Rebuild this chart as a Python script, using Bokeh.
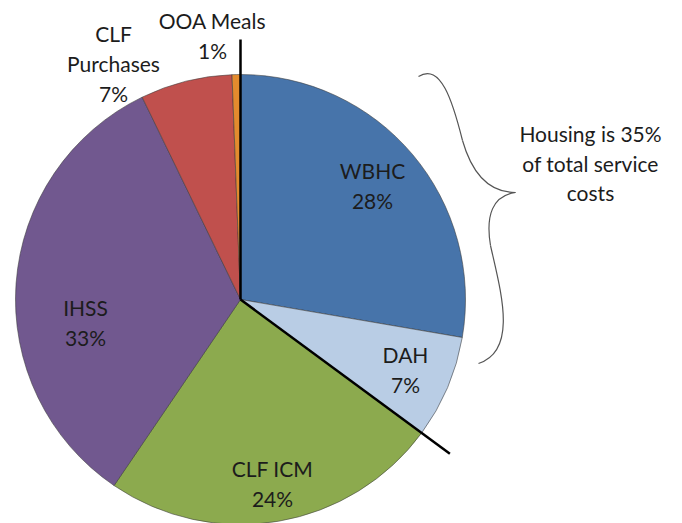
import math
from bokeh.plotting import figure
from bokeh.models import Range1d
from bokeh.core.properties import value
from bokeh.embed import file_html
from bokeh.resources import INLINE

# ---- data ----
categories = ["WBHC", "DAH", "CLF ICM", "IHSS", "CLF\nPurchases", "OOA Meals"]
shares = [27.7, 7.4, 24.4, 33.3, 6.6, 0.6]
colors = ["#4774AA", "#B9CDE5", "#8CAA4E", "#71588F", "#C0504D", "#E38B2E"]
housing = ["WBHC", "DAH"]
note_lines = ["Housing is 35%", "of total service", "costs"]

# ---- layout (image pixel coordinates) ----
W, H = 682, 523
CX, CY, R = 240, 299, 225
label_pos = [(372, 170), (405, 354), (272, 468), (85, 307), (113, 33), (212, 20)]
LINE_GAP = 30
FONT = "Lato"
FS = "21px"

p = figure(width=W, height=H, output_backend="svg", toolbar_location=None,
           x_range=Range1d(0, W), y_range=Range1d(-H, 0),
           min_border=0)
p.axis.visible = False
p.grid.visible = False
p.outline_line_color = None
p.background_fill_color = "white"
p.border_fill_color = "white"

total = sum(shares)
starts, ends = [], []
cum = 0.0
for s in shares:
    starts.append(math.pi / 2 - 2 * math.pi * cum / total)
    cum += s
    ends.append(math.pi / 2 - 2 * math.pi * cum / total)

p.wedge(x=[CX] * len(shares), y=[-CY] * len(shares), radius=R,
        start_angle=starts, end_angle=ends, direction="clock",
        fill_color=colors, line_color="#3c3c3c", line_width=0.7, line_alpha=0.8)

# labels
xs, ys, txt = [], [], []
for name, s, (lx, ly) in zip(categories, shares, label_pos):
    lines = name.split("\n") + [f"{100 * s / total:.0f}%"]
    for i, ln in enumerate(lines):
        xs.append(lx)
        ys.append(-(ly + i * LINE_GAP))
        txt.append(ln)
p.text(x=xs, y=ys, text=txt, text_font=value(FONT), text_font_size=FS,
       text_align="center", text_baseline="middle", text_color="#1c1c1c")

# housing separator lines (from data: start angle and end of housing slices)
hshare = sum(s for c, s in zip(categories, shares) if c in housing) / total
L = 260
a0 = math.pi / 2
a1 = math.pi / 2 - 2 * math.pi * hshare
p.segment(x0=[CX, CX], y0=[-CY, -CY],
          x1=[CX + L * math.cos(a0), CX + L * math.cos(a1)],
          y1=[-CY + L * math.sin(a0), -CY + L * math.sin(a1)],
          line_color="black", line_width=2.5)

# curly brace
bx0 = [418, 462, 515, 490]
by0 = [76, 140, 192, 245]
bx1 = [462, 515, 490, 478]
by1 = [140, 192, 245, 363]
bcx0 = [440, 472, 492, 500]
bcy0 = [62, 175, 195, 290]
bcx1 = [452, 490, 485, 518]
bcy1 = [100, 192, 215, 350]
p.bezier(x0=bx0, y0=[-v for v in by0], x1=bx1, y1=[-v for v in by1],
         cx0=bcx0, cy0=[-v for v in bcy0], cx1=bcx1, cy1=[-v for v in bcy1],
         line_color="#555555", line_width=1.2)

# note text
p.text(x=[590] * 3, y=[-133, -163, -192], text=note_lines, text_font=value(FONT),
       text_font_size=FS, text_align="center", text_baseline="middle",
       text_color="#1c1c1c")

open("out.html", "w").write(file_html(p, INLINE))
